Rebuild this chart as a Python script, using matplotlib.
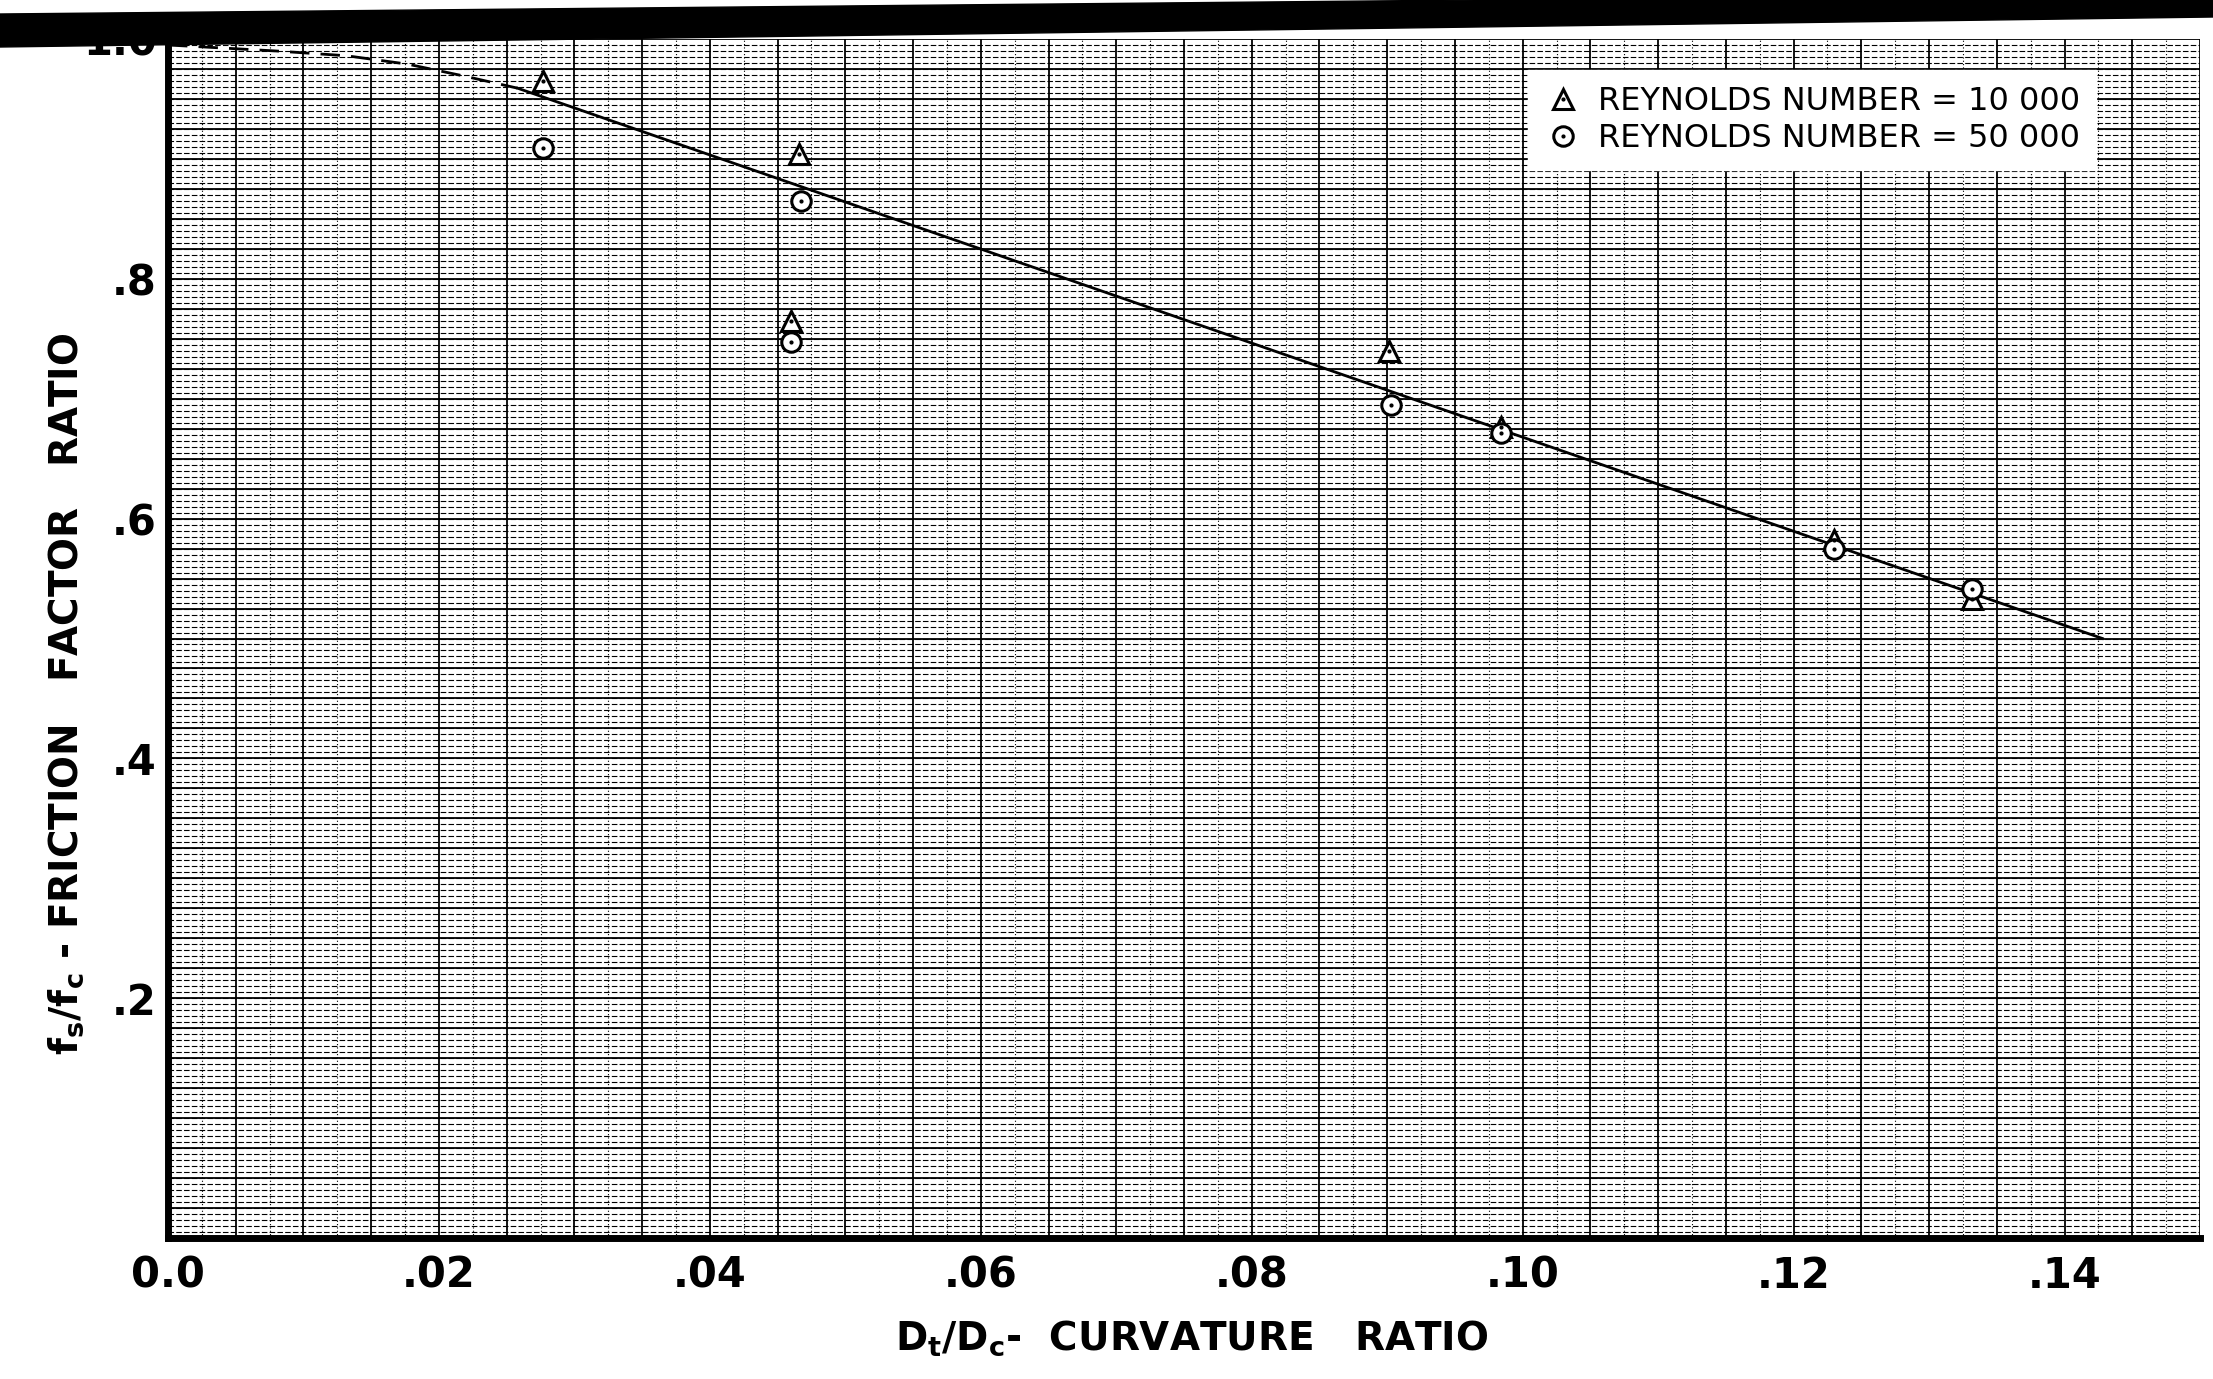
import numpy as np
import matplotlib
matplotlib.use("Agg")
import matplotlib.pyplot as plt
from matplotlib.lines import Line2D
from matplotlib.legend_handler import HandlerTuple
from matplotlib.patches import Polygon
from matplotlib.ticker import MultipleLocator

# friction factor ratio fs/fc against curvature ratio Dt/Dc
re10k_x = [0.0277, 0.0466, 0.0460, 0.0901, 0.0984, 0.1230, 0.1332]
re10k_y = [0.965, 0.904, 0.765, 0.740, 0.676, 0.582, 0.533]
re50k_x = [0.0277, 0.0467, 0.0460, 0.0903, 0.0984, 0.1230, 0.1332]
re50k_y = [0.909, 0.865, 0.747, 0.695, 0.671, 0.575, 0.541]

# faired line and its dashed extension back to the straight tube
fit_x = [0.0258, 0.1428]
fit_y = [0.959, 0.500]
extrap_x = [0.0, 0.0080, 0.0132, 0.0177, 0.0219, 0.0258]
extrap_y = [0.995, 0.990, 0.986, 0.979, 0.969, 0.959]

xticks = [0.0, 0.02, 0.04, 0.06, 0.08, 0.10, 0.12, 0.14]
xtick_labels = ['0.0', '.02', '.04', '.06', '.08', '.10', '.12', '.14']
yticks = [0.2, 0.4, 0.6, 0.8, 1.0]
ytick_labels = ['.2', '.4', '.6', '.8', '1.0']
legend_labels = ['REYNOLDS NUMBER = 10 000', 'REYNOLDS NUMBER = 50 000']

W, H = 2213, 1379
narrow = ['Liberation Sans Narrow', 'DejaVu Sans']

fig = plt.figure(figsize=(W / 100, H / 100), dpi=100)
ax = fig.add_axes([168 / W, 141 / H, 2032 / W, 1199 / H])
ax.set_xlim(0, 0.15)
ax.set_ylim(0, 1.0)

# graph paper
ax.xaxis.set_minor_locator(MultipleLocator(0.005))
ax.yaxis.set_minor_locator(MultipleLocator(0.025))
ax.grid(which='both', color='black', lw=1.3, zorder=1)
ax.hlines(np.arange(0, 1.0, 0.005), 0, 0.15, colors='black', lw=0.8,
          linestyles=(0, (5, 2)), zorder=0)
ax.vlines(np.arange(0.0025, 0.15, 0.005), 0, 1.0, colors='black', lw=0.8,
          linestyles=(0, (1, 2)), zorder=0)
ax.set_axisbelow(True)

ax.plot(fit_x, fit_y, color='black', lw=2, zorder=3)
ax.plot(extrap_x, extrap_y, color='black', lw=2, ls=(0, (7, 4)), zorder=3,
        clip_on=False)

mk = dict(ls='none', mfc='white', mec='black', mew=2.2)
ax.plot(re10k_x, re10k_y, marker='^', ms=15, zorder=4, **mk)
ax.plot(re50k_x, re50k_y, marker='o', ms=14, zorder=4, **mk)
ax.plot(re10k_x, re10k_y, ls='none', marker='.', ms=4, color='black', zorder=5)
ax.plot(re50k_x, re50k_y, ls='none', marker='.', ms=4, color='black', zorder=5)

for side in ['top', 'right']:
    ax.spines[side].set_visible(False)
for side in ['left', 'bottom']:
    ax.spines[side].set_linewidth(5)
    ax.spines[side].set_zorder(6)

ax.set_xticks(xticks)
ax.set_xticklabels(xtick_labels)
ax.set_yticks(yticks)
ax.set_yticklabels(ytick_labels)
ax.tick_params(which='both', length=0)
ax.tick_params(axis='x', pad=12)
ax.tick_params(axis='y', pad=8)
for lab in ax.get_xticklabels() + ax.get_yticklabels():
    lab.set_fontsize(30)
    lab.set_fontweight('bold')
    lab.set_family(narrow)

fig.text(1192 / W, 0.021, r'D$_\mathbf{t}$/D$_\mathbf{c}$-  CURVATURE   RATIO',
         fontsize=28, fontweight='bold', ha='center', va='baseline')
fig.text(0.035, 0.497, r'f$_\mathbf{s}$/f$_\mathbf{c}$ - FRICTION   FACTOR   RATIO',
         fontsize=28, fontweight='bold', ha='center', va='baseline',
         rotation=90, rotation_mode='anchor')

h1 = (Line2D([], [], marker='^', ms=15, **mk),
      Line2D([], [], ls='none', marker='.', ms=4, color='black'))
h2 = (Line2D([], [], marker='o', ms=14, **mk),
      Line2D([], [], ls='none', marker='.', ms=4, color='black'))
leg = ax.legend([h1, h2], legend_labels, handler_map={tuple: HandlerTuple(ndivide=1)},
                loc='upper right', bbox_to_anchor=(2096 / W, 1 - 70 / H),
                bbox_transform=fig.transFigure, borderaxespad=0,
                prop={'size': 23}, frameon=True, fancybox=False,
                edgecolor='white', facecolor='white', framealpha=1,
                handletextpad=0.5, labelspacing=0.2, borderpad=0.5,
                handlelength=1.2)
leg.set_zorder(7)

# dark strip along the top edge of the scanned sheet
bar = Polygon([(0, 1 - 14 / H), (1, 1 + 7 / H), (1, 1 - 17 / H), (0, 1 - 47 / H)],
              closed=True, transform=fig.transFigure, color='black', zorder=10)
fig.patches.append(bar)

fig.savefig('out.png', dpi=100, facecolor='white')
